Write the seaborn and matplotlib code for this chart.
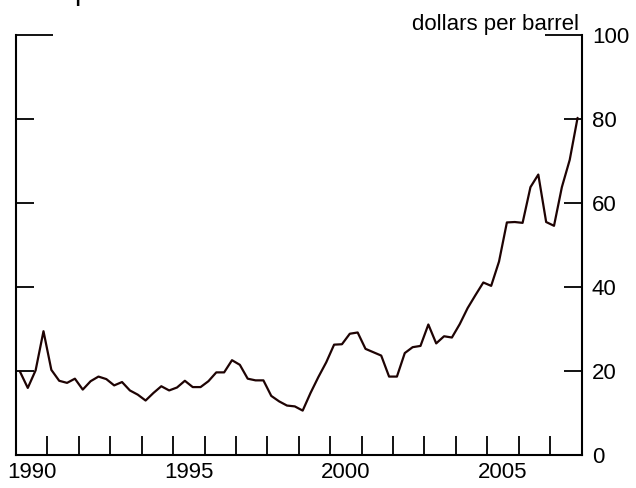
import numpy as np
import pandas as pd
import matplotlib
matplotlib.use("Agg")
import matplotlib.pyplot as plt
import seaborn as sns
from matplotlib.ticker import FixedLocator, FixedFormatter, NullFormatter

# Quarterly oil import price, dollars per barrel, 1990Q1 - 2007Q4
years = list(range(1990, 2008))
quarters = [1, 2, 3, 4]
price = [
    19.8, 15.9, 20.1, 29.4,   # 1990
    20.2, 17.6, 17.1, 18.1,   # 1991
    15.5, 17.5, 18.6, 18.0,   # 1992
    16.5, 17.3, 15.3, 14.3,   # 1993
    12.9, 14.7, 16.3, 15.3,   # 1994
    16.0, 17.6, 16.1, 16.1,   # 1995
    17.5, 19.6, 19.6, 22.5,   # 1996
    21.4, 18.1, 17.7, 17.7,   # 1997
    14.0, 12.7, 11.7, 11.5,   # 1998
    10.5, 14.7, 18.5, 22.0,   # 1999
    26.2, 26.3, 28.8, 29.1,   # 2000
    25.2, 24.4, 23.6, 18.6,   # 2001
    18.6, 24.2, 25.6, 25.9,   # 2002
    31.0, 26.5, 28.2, 27.9,   # 2003
    31.1, 34.9, 38.0, 41.0,   # 2004
    40.2, 46.0, 55.3, 55.4,   # 2005
    55.2, 63.7, 66.7, 55.4,   # 2006
    54.5, 63.7, 70.2, 80.2,   # 2007
]
year_labels = ["1990", "1995", "2000", "2005"]
y_ticks = [0, 20, 40, 60, 80]
y_top = [100]
title_text = "Oil Import Price"
unit_text = "dollars per barrel"

# time index at mid-quarter
t = [y + (q - 0.5) / 4 for y in years for q in quarters]
df = pd.DataFrame({"t": t, "price": price})

sns.set_theme(style="white")
plt.rcParams["font.family"] = ["Liberation Sans", "DejaVu Sans"]

fig = plt.figure(figsize=(6.36, 4.88), dpi=100)
W, H = 636, 488
ax = fig.add_axes([16 / W, 1 - 454.7 / H, (581.5 - 16) / W, (454.7 - 34.7) / H])

sns.lineplot(data=df, x="t", y="price", ax=ax, color="#1e0303", linewidth=1.6)

ax.set_xlim(1990, 2008)
ax.set_ylim(0, 100)
ax.set_xlabel("")
ax.set_ylabel("")

for side in ["left", "right", "bottom"]:
    ax.spines[side].set_visible(True)
    ax.spines[side].set_color("black")
    ax.spines[side].set_linewidth(1.5)
ax.spines["top"].set_visible(False)

FS = 16

# x: year boundary ticks (no labels) and mid-year labels
ax.xaxis.set_major_locator(FixedLocator(list(range(1991, 2008))))
ax.xaxis.set_major_formatter(NullFormatter())
ax.xaxis.set_minor_locator(FixedLocator([int(s) + 0.5 for s in year_labels]))
ax.xaxis.set_minor_formatter(FixedFormatter(year_labels))
ax.tick_params(axis="x", which="major", direction="in", length=13.5, width=1.3,
               color="black", bottom=True, top=False)
ax.tick_params(axis="x", which="minor", length=0, pad=5, labelsize=FS,
               labelcolor="black", bottom=True)

# y: ticks both sides, labels on right
ax.yaxis.set_major_locator(FixedLocator(y_ticks))
ax.yaxis.set_major_formatter(FixedFormatter([str(v) for v in y_ticks]))
ax.yaxis.set_minor_locator(FixedLocator(y_top))
ax.yaxis.set_minor_formatter(FixedFormatter([str(v) for v in y_top]))
ax.tick_params(axis="y", which="major", direction="in", length=13, width=1.3,
               color="black", left=True, right=True, labelleft=False,
               labelright=True, pad=7.5, labelsize=FS, labelcolor="black")
ax.tick_params(axis="y", which="minor", direction="in", length=26.5, width=1.3,
               color="black", left=True, right=True, labelleft=False,
               labelright=True, pad=7.5, labelsize=FS, labelcolor="black")
ax.grid(False)

fig.text(579 / W, 1 - 30 / H, unit_text, ha="right", va="baseline",
         fontsize=16, color="black")
fig.text(-1 / W, 1 - 0.5 / H, title_text, ha="left", va="baseline",
         fontsize=21, color="black")

fig.savefig("out.png", dpi=100)
